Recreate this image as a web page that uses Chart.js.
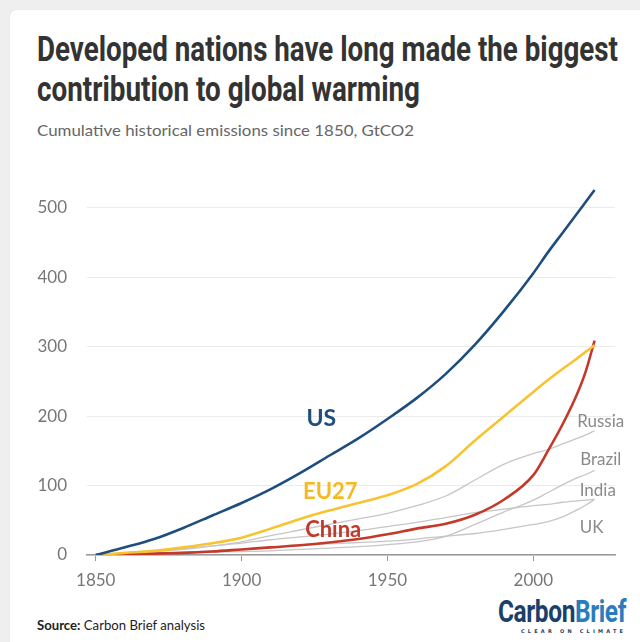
<!DOCTYPE html>
<html>
<head>
<meta charset="utf-8">
<script src="https://cdn.jsdelivr.net/npm/chart.js@4.4.0/dist/chart.umd.min.js"></script>
<style>
html, body { margin: 0; padding: 0; width: 640px; height: 642px; overflow: hidden; background: #efefef; }
#card { position: absolute; left: 10px; top: 10px; width: 640px; height: 640px; background: #fff; border-radius: 6px 0 0 0; box-shadow: 0 0 1px #c8c8c8; }
.fit { position: absolute; left: 37px; white-space: nowrap; transform-origin: 0 0; display: inline-block; }
#t1, #t2 { font-family: Roboto; font-weight: bold; font-size: 35px; line-height: 40px; color: #333; }
#t1 { top: 30px; }
#t2 { top: 70px; }
#sub { top: 120px; font-family: Lato; font-size: 16px; line-height: 20px; color: #666; }
#src { top: 616px; font-family: Lato; font-size: 13px; line-height: 18px; color: #222; }
#logo { left: 498px; top: 597px; font-family: Roboto; font-weight: bold; font-size: 31px; line-height: 30px; letter-spacing: -0.5px; }
#tag { position: absolute; left: 521px; top: 628px; font-family: "DejaVu Sans"; font-weight: bold; font-size: 5px; letter-spacing: 3.2px; color: #1b3f6b; }
canvas { position: absolute; left: 0; top: 150px; }
</style>
</head>
<body>
<div id="card"></div>
<div id="t1" class="fit">Developed nations have long made the biggest</div>
<div id="t2" class="fit">contribution to global warming</div>
<div id="sub" class="fit">Cumulative historical emissions since 1850, GtCO2</div>
<div id="src" class="fit"><b>Source:</b> Carbon Brief analysis</div>
<div id="logo" class="fit"><span style="color:#1b3f6b">Carbon</span><span style="color:#2b7bc0">Brief</span></div>
<div id="tag">CLEAR ON CLIMATE</div>
<canvas id="emissionsChart" width="640" height="450"></canvas>
<script>
// cumulative emissions, GtCO2
const years  = [1850, 1860, 1870, 1880, 1890, 1900, 1910, 1920, 1930, 1940, 1950, 1960, 1970, 1980, 1990, 2000, 2005, 2010, 2015, 2018, 2021];
const us     = [0, 11, 23, 39, 57, 75, 95, 118, 143, 168, 196, 226, 261, 303, 352, 406, 436, 464, 492, 509, 526];
const eu27   = [0, 3, 6, 11, 17, 25, 38, 52, 64, 75, 86, 102, 128, 165, 200, 235, 252, 268, 283, 293, 302];
const china  = [0, 1, 2, 3, 5, 8, 11, 14, 18, 23, 30, 38, 45, 58, 80, 115, 150, 188, 232, 265, 309];
const russia = [0, 2, 5, 8, 13, 19, 28, 36, 44, 52, 60, 71, 85, 108, 131, 146, 152, 160, 168, 173, 179];
const brazil = [0, 1, 2, 3, 4, 5, 6, 8, 10, 12, 15, 19, 27, 44, 62, 79, 90, 101, 111, 116, 122];
const india  = [0, 1, 2, 4, 6, 8, 11, 14, 16, 18, 20, 23, 27, 31, 37, 44, 48, 55, 65, 72, 80];
const uk     = [0, 3, 6, 9, 13, 17, 22, 26, 30, 35, 41, 47, 54, 61, 66, 71, 73, 76, 78, 79, 80];

const xTicks = [1850, 1900, 1950, 2000];
const yTicks = [0, 100, 200, 300, 400, 500];

const labels = [
    { text: 'US', year: 1927.3, value: 197, color: '#1d4e7e', font: 'bold 23px Lato' },
    { text: 'EU27', year: 1930.4, value: 91, color: '#f5b921', font: 'bold 22px Lato' },
    { text: 'China', year: 1931.4, value: 36, color: '#c0392b', font: 'bold 22px Lato' },
    { text: 'Russia', year: 2023.1, value: 193, color: '#8a8a8a', font: '17px Lato' },
    { text: 'Brazil', year: 2023.1, value: 137, color: '#8a8a8a', font: '17px Lato' },
    { text: 'India', year: 2022.1, value: 93, color: '#8a8a8a', font: '17px Lato' },
    { text: 'UK', year: 2020, value: 40, color: '#8a8a8a', font: '17px Lato' }
];

function fitWidth(id, w) {
    const el = document.getElementById(id);
    const cur = el.getBoundingClientRect().width;
    el.style.transform = 'scaleX(' + (w / cur) + ')';
}
fitWidth('t1', 581);
fitWidth('t2', 383);
fitWidth('sub', 377);
fitWidth('src', 168);
fitWidth('logo', 128);

function series(values, color, width) {
    return {
        data: years.map((yr, i) => ({ x: yr, y: values[i] })),
        borderColor: color,
        borderWidth: width,
        pointRadius: 0,
        cubicInterpolationMode: 'monotone',
        fill: false
    };
}

const seriesLabels = {
    id: 'seriesLabels',
    afterDatasetsDraw(chart) {
        const ctx = chart.ctx;
        const x = chart.scales.x, y = chart.scales.y;
        ctx.save();
        ctx.textAlign = 'center';
        ctx.textBaseline = 'middle';
        labels.forEach(l => {
            ctx.font = l.font;
            ctx.fillStyle = l.color;
            ctx.fillText(l.text, x.getPixelForValue(l.year), y.getPixelForValue(l.value));
        });
        ctx.restore();
    }
};

const ctx = document.getElementById('emissionsChart').getContext('2d');
new Chart(ctx, {
    type: 'line',
    data: {
        datasets: [
            series(us, '#1d4e7e', 2.6),
            series(eu27, '#f7c331', 2.6),
            series(china, '#c23b2a', 2.6),
            series(russia, '#c6c6c6', 1.3),
            series(brazil, '#c6c6c6', 1.3),
            series(india, '#c6c6c6', 1.3),
            series(uk, '#c6c6c6', 1.3)
        ]
    },
    options: {
        responsive: false,
        animation: false,
        layout: { padding: { top: 28, right: 25, left: 0, bottom: 0 } },
        plugins: { legend: { display: false }, tooltip: { enabled: false } },
        scales: {
            x: {
                type: 'linear',
                min: 1847,
                max: 2028,
                afterBuildTicks: s => { s.ticks = xTicks.map(v => ({ value: v })); },
                afterFit: s => { s.height = 45; },
                grid: { drawOnChartArea: false, drawTicks: true, tickLength: 6, color: '#999' },
                border: { color: '#999', width: 1.5 },
                ticks: { color: '#777', font: { family: 'Lato', size: 17 }, padding: 9, maxRotation: 0, callback: v => String(v) }
            },
            y: {
                min: 0,
                max: 540,
                afterBuildTicks: s => { s.ticks = yTicks.map(v => ({ value: v })); },
                afterFit: s => { s.width = 87; },
                grid: { color: '#ebebeb', drawTicks: false },
                border: { display: false },
                ticks: { color: '#777', font: { family: 'Lato', size: 17 }, padding: 20 }
            }
        }
    },
    plugins: [seriesLabels]
});
</script>
</body>
</html>
